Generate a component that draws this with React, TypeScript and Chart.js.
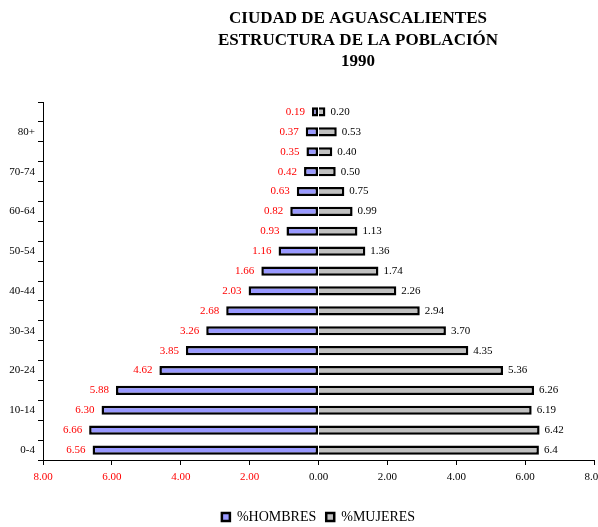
import React, { useEffect, useRef } from "react";
import { Chart, registerables } from "chart.js";

Chart.register(...registerables);

const tituloLineas = ["CIUDAD DE AGUASCALIENTES", "ESTRUCTURA DE LA POBLACIÓN", "1990"];

const categorias = [
  "0-4", "5-9", "10-14", "15-19", "20-24", "25-29", "30-34", "35-39", "40-44",
  "45-49", "50-54", "55-59", "60-64", "65-69", "70-74", "75-79", "80+", "No esp.",
];

const hombres = [6.56, 6.66, 6.30, 5.88, 4.62, 3.85, 3.26, 2.68, 2.03, 1.66, 1.16, 0.93, 0.82, 0.63, 0.42, 0.35, 0.37, 0.19];
const mujeres = [6.4, 6.42, 6.19, 6.26, 5.36, 4.35, 3.70, 2.94, 2.26, 1.74, 1.36, 1.13, 0.99, 0.75, 0.50, 0.40, 0.53, 0.20];
const mujeresTexto = mujeres.map((v, i) => (i === 0 ? v.toFixed(1) : v.toFixed(2)));

const xMin = -8;
const xMax = 8;
const xPaso = 2;

const SERIF = '"Liberation Serif", "Times New Roman", serif';

const tituloPlugin = {
  id: "tituloCentrado",
  afterDraw(chart: any) {
    const ctx = chart.ctx;
    ctx.save();
    ctx.font = `bold 17px ${SERIF}`;
    ctx.fillStyle = "#000";
    ctx.textAlign = "center";
    ctx.textBaseline = "alphabetic";
    tituloLineas.forEach((t, i) => ctx.fillText(t, 358, 23 + i * 21.5));
    ctx.restore();
  },
};

const etiquetasPlugin = {
  id: "etiquetasBarras",
  afterDatasetsDraw(chart: any) {
    const ctx = chart.ctx;
    ctx.save();
    ctx.font = `11px ${SERIF}`;
    ctx.textBaseline = "middle";
    chart.data.datasets.forEach((_ds: any, di: number) => {
      const meta = chart.getDatasetMeta(di);
      meta.data.forEach((el: any, i: number) => {
        const { x, y } = el.getProps(["x", "y"], true);
        if (di === 0) {
          ctx.fillStyle = "#FF0000";
          ctx.textAlign = "right";
          ctx.fillText(hombres[i].toFixed(2), x - 7, y);
        } else {
          ctx.fillStyle = "#000";
          ctx.textAlign = "left";
          ctx.fillText(mujeresTexto[i], x + 5, y);
        }
      });
    });
    ctx.restore();
  },
};

export default function App() {
  const ref = useRef<HTMLCanvasElement | null>(null);

  useEffect(() => {
    if (!ref.current) return;
    const chart = new Chart(ref.current, {
      type: "bar",
      data: {
        labels: categorias,
        datasets: [
          {
            label: "%HOMBRES",
            data: hombres.map((v) => -v),
            backgroundColor: "#9999FF",
            borderColor: "#000",
            borderWidth: 2.5,
            borderSkipped: false,
            barPercentage: 0.46,
            categoryPercentage: 1,
          },
          {
            label: "%MUJERES",
            data: mujeres,
            backgroundColor: "#C0C0C0",
            borderColor: "#000",
            borderWidth: 2.5,
            borderSkipped: "start",
            barPercentage: 0.46,
            categoryPercentage: 1,
          },
        ],
      },
      options: {
        indexAxis: "y",
        responsive: false,
        animation: false,
        layout: { padding: { top: 102, right: 4, bottom: -7, left: 0 } },
        scales: {
          x: {
            stacked: true,
            min: xMin,
            max: xMax,
            ticks: {
              stepSize: xPaso,
              padding: 6,
              font: { family: SERIF, size: 11 },
              color: (c: any) => (c.tick && c.tick.value < 0 ? "#FF0000" : "#000"),
              callback: (v: any) => Math.abs(Number(v)).toFixed(2),
            },
            grid: { display: true, drawOnChartArea: false, tickLength: 5, color: "#000" },
            border: { display: true, color: "#000", width: 1 },
            afterFit: (s: any) => {
              s.height = 40;
              s.paddingLeft = 0;
              s.paddingRight = 0;
            },
          },
          y: {
            stacked: true,
            reverse: true,
            ticks: {
              autoSkip: false,
              padding: 3,
              font: { family: SERIF, size: 11 },
              color: "#000",
              callback: (_v: any, i: number) => (i % 2 === 0 ? categorias[i] : ""),
            },
            grid: { display: true, drawOnChartArea: false, offset: true, tickLength: 5, color: "#000" },
            border: { display: true, color: "#000", width: 1 },
            afterFit: (s: any) => {
              s.width = 43;
              s.paddingTop = 0;
              s.paddingBottom = 0;
            },
          },
        },
        plugins: {
          title: { display: false },
          tooltip: { enabled: false },
          legend: {
            display: true,
            position: "bottom",
            fullSize: false,
            labels: {
              boxWidth: 8,
              boxHeight: 8,
              padding: 10,
              color: "#000",
              font: { family: SERIF, size: 14 },
            },
          },
        },
      },
      plugins: [tituloPlugin, etiquetasPlugin],
    });
    return () => chart.destroy();
  }, []);

  return (
    <div style={{ position: "fixed", left: 0, top: 0, width: 598, height: 527, background: "#fff" }}>
      <canvas ref={ref} width={598} height={527} style={{ display: "block" }} />
    </div>
  );
}
